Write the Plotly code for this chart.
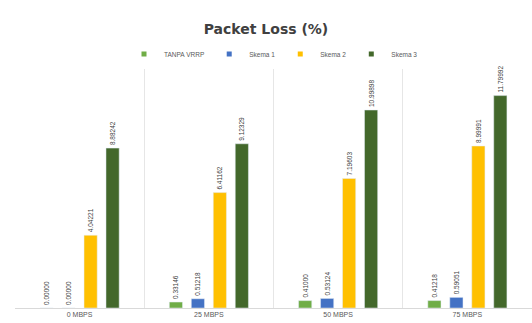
import plotly.graph_objects as go

categories = ["0 MBPS", "25 MBPS", "50 MBPS", "75 MBPS"]
series_names = ["TANPA VRRP", "Skema 1", "Skema 2", "Skema 3"]
tanpa_vrrp = [0.00000, 0.33146, 0.41000, 0.41218]
skema_1 = [0.00000, 0.51218, 0.53124, 0.59051]
skema_2 = [4.04221, 6.41162, 7.19603, 8.99991]
skema_3 = [8.88242, 9.12329, 10.99898, 11.79992]
colors = ["#70AD47", "#4472C4", "#FFC000", "#43682B"]

fig = go.Figure()
for name, vals, col in zip(series_names, [tanpa_vrrp, skema_1, skema_2, skema_3], colors):
    fig.add_trace(go.Bar(
        x=categories, y=vals, name=name, marker_color=col, showlegend=False,
        legendgroup=name,
        text=[f"{v:.5f}" for v in vals], textposition="outside",
        textangle=-90, textfont=dict(size=6.5, color="#404040", family="Liberation Sans"),
        cliponaxis=False,
    ))
# legend entries with small square swatches
for name, col in zip(series_names, colors):
    fig.add_trace(go.Scatter(
        x=[None], y=[None], mode="markers", name=name, legendgroup=name,
        marker=dict(symbol="square", size=5, color=col),
    ))

fig.update_layout(
    width=532, height=323,
    margin=dict(l=15, r=0, t=65, b=15),
    paper_bgcolor="white", plot_bgcolor="white",
    barmode="group", bargap=0.32, bargroupgap=0.4,
    title=dict(text="<b>Packet Loss (%)</b>", x=0.5, xanchor="center", y=0.91, yanchor="middle",
               font=dict(size=14, color="#404040", family="DejaVu Sans")),
    legend=dict(orientation="h", x=0.5, xanchor="center", y=1.045, yanchor="middle",
                font=dict(size=6.5, color="#595959", family="Liberation Sans"),
                itemwidth=30, entrywidth=0, tracegroupgap=0),
    uniformtext=dict(minsize=5, mode="show"),
)
fig.update_xaxes(
    showgrid=True, gridcolor="#E6E6E6", tickson="boundaries", ticks="",
    showline=True, linecolor="#D9D9D9",
    tickfont=dict(size=7, color="#595959", family="Liberation Sans"),
)
fig.update_yaxes(range=[0, 13.5], showgrid=False, showticklabels=False, zeroline=False)

fig.write_html("out.html")
